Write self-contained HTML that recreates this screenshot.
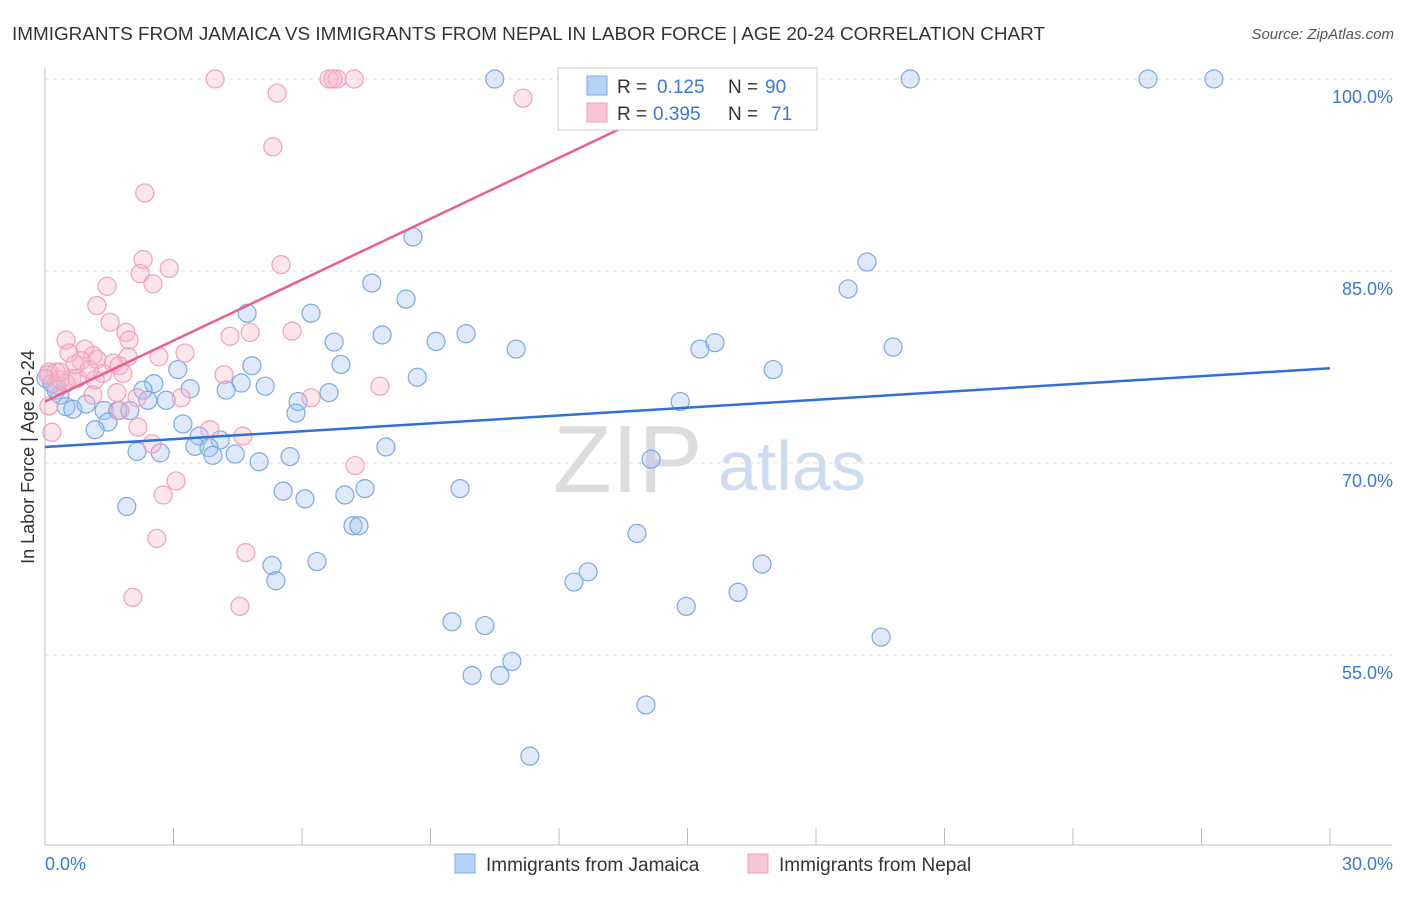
<!DOCTYPE html>
<html><head><meta charset="utf-8"><style>
body{margin:0;background:#fff;font-family:"Liberation Sans",sans-serif;}
svg text{font-family:"Liberation Sans",sans-serif;}
</style></head><body>
<svg id="chart" width="1406" height="892" viewBox="0 0 1406 892">
<text x="12" y="40" font-size="18" fill="#333" textLength="1033" lengthAdjust="spacingAndGlyphs">IMMIGRANTS FROM JAMAICA VS IMMIGRANTS FROM NEPAL IN LABOR FORCE | AGE 20-24 CORRELATION CHART</text>
<text x="1394" y="39" font-size="15" fill="#555" text-anchor="end" font-style="italic">Source: ZipAtlas.com</text>
<text transform="translate(34,457) rotate(-90)" font-size="18" fill="#333" text-anchor="middle">In Labor Force | Age 20-24</text>
<text x="553" y="492" font-size="96" fill="#ddd" font-family="Liberation Serif">ZIP</text>
<text x="718" y="490" font-size="70" fill="#cddcf0">atlas</text>
<g id="grid"></g><g id="axes"></g><g id="pts"></g><g id="trend"></g>
<g>
<rect x="558" y="68" width="259" height="62" fill="#fff" stroke="#ccc"/>
<rect x="587" y="76" width="20" height="19" fill="#b8d2f4" stroke="#7aa8e8"/>
<rect x="587" y="103" width="20" height="19" fill="#f9c4d4" stroke="#f0a0b8"/>
<text x="617" y="93" font-size="19" fill="#333">R =</text>
<text x="657" y="93" font-size="19" fill="#3a78d8">0.125</text>
<text x="728" y="93" font-size="19" fill="#333">N =</text>
<text x="765" y="93" font-size="19" fill="#3a78d8">90</text>
<text x="617" y="120" font-size="19" fill="#333">R =</text>
<text x="653" y="120" font-size="19" fill="#3a78d8">0.395</text>
<text x="728" y="120" font-size="19" fill="#333">N =</text>
<text x="771" y="120" font-size="19" fill="#3a78d8">71</text>
</g>
<g>
<rect x="455" y="854" width="20" height="19" fill="#b8d2f4" stroke="#7aa8e8"/>
<text x="486" y="871" font-size="19" fill="#333">Immigrants from Jamaica</text>
<rect x="748" y="854" width="20" height="19" fill="#f9c4d4" stroke="#f0a0b8"/>
<text x="779" y="871" font-size="19" fill="#333">Immigrants from Nepal</text>
</g>
</svg>
<script>
const yTicks=[100,85,70,55];
const yTickLabels=["100.0%","85.0%","70.0%","55.0%"];
const xTickLabels=["0.0%","30.0%"];
const jamX=[10.5,20.2,25.75,27.29,8.59,19.19,7.63,18.75,8.43,4.72,6.21,9.83,7.87,9.13,6.75,11.0,15.29,15.64,19.8,6.91,4.83,3.1,17.0,8.69,4.58,2.54,5.14,2.29,3.39,4.23,0.26,0.35,5.91,2.83,2.4,0.02,0.16,6.63,14.83,0.49,0.65,0.96,1.38,1.7,1.98,5.86,3.22,1.47,1.17,3.6,4.09,3.5,3.83,3.92,2.15,2.69,4.44,7.96,5.0,5.72,14.15,9.69,5.56,6.07,7.0,7.47,1.91,7.19,7.33,13.82,5.3,6.35,5.39,12.68,12.35,16.74,16.18,14.97,9.5,10.27,19.52,10.9,9.97,10.62,14.03,11.32];
const jamY=[100,100,100,100,87.66,85.7,84.06,83.6,82.8,81.7,81.7,80.1,80.0,79.5,79.45,78.9,78.9,79.4,79.06,77.7,77.6,77.3,77.3,76.7,76.25,76.2,76.0,75.7,75.8,75.7,75.7,75.3,74.8,74.9,74.9,76.6,76.2,75.5,74.8,74.4,74.2,74.6,74.1,74.1,74.1,73.9,73.05,73.2,72.6,72.1,71.8,71.3,71.2,70.6,70.9,70.8,70.7,71.25,70.1,70.5,70.3,68.0,67.8,67.2,67.5,68.0,66.6,65.1,65.1,64.5,62.0,62.3,60.8,61.5,60.7,62.1,59.9,58.8,57.6,57.3,56.4,54.5,53.4,53.4,51.1,47.1];
const nepX=[3.97,6.63,6.82,7.22,6.72,11.16,5.42,5.32,2.33,2.29,5.51,2.9,2.22,2.52,1.45,1.21,1.52,1.89,5.77,4.79,4.32,1.96,0.49,0.56,0.93,1.12,2.66,3.27,1.94,1.21,0.84,1.59,1.73,1.82,1.35,1.17,0.26,0.63,0.09,0.75,0.26,0.49,0.35,7.82,4.18,6.21,3.18,1.12,1.68,2.15,0.09,1.75,2.17,0.16,3.85,4.62,2.5,7.24,3.06,2.76,2.61,4.69,2.05,4.55,0.07,0.35,0.7,1.03];
const nepY=[100,100,100,100,100,98.5,98.9,94.7,91.1,85.9,85.5,85.2,84.8,84.0,83.8,82.3,81.0,80.2,80.3,80.2,79.9,79.6,79.6,78.6,78.9,78.4,78.3,78.6,78.3,78.1,78.0,77.8,77.6,77.0,77.0,76.5,77.1,76.6,77.1,76.6,76.1,76.25,76.5,76.0,76.9,75.1,75.1,75.3,75.5,75.1,74.45,74.1,72.8,72.4,72.6,72.1,71.5,69.8,68.6,67.5,64.1,63.0,59.5,58.8,76.9,77.1,77.7,77.3];
const trendJam=[0,71.25,30,77.4];
const trendNep=[0,74.8,15.5,99.4];
const X0=45,X1=1330,Y100=79,PX=12.8;
const sx=v=>X0+(X1-X0)*v/30;
const sy=v=>Y100+(100-v)*PX;
const NS="http://www.w3.org/2000/svg";
function mk(t,a,p){const e=document.createElementNS(NS,t);for(const k in a)e.setAttribute(k,a[k]);p.appendChild(e);return e;}
const grid=document.getElementById('grid'),axes=document.getElementById('axes'),pts=document.getElementById('pts'),tr=document.getElementById('trend');
yTicks.forEach((v,i)=>{
 const l=mk('line',{x1:X0,x2:1392,y1:sy(v),y2:sy(v),stroke:'#ddd','stroke-dasharray':'4,4'},grid);
 
 
 const t=mk('text',{x:1393,y:sy(v)+24,'font-size':18,fill:'#3a78d8','text-anchor':'end'},axes);
 t.textContent=yTickLabels[i];
 
 
});
const ax=mk('line',{x1:X0,x2:1392,y1:845,y2:845,stroke:'#bbb'},axes);


const ay=mk('line',{x1:X0,x2:X0,y1:68,y2:845,stroke:'#bbb'},axes);


for(let k=0;k<=10;k++){const tk=mk('line',{x1:sx(k*3),x2:sx(k*3),y1:828,y2:845,stroke:'#bbb'},axes);
 
 }
[[0,'start',45],[1,'end',1393]].forEach(([i,a,x])=>{const t=mk('text',{x:x,y:870,'font-size':18,fill:'#3a78d8','text-anchor':a},axes);t.textContent=xTickLabels[i];
 
 });
jamX.forEach((v,i)=>{const c=mk('circle',{cx:sx(v),cy:sy(jamY[i]),r:9,fill:'rgba(160,196,240,0.35)',stroke:'#7aa8e8','stroke-width':1.2},pts);
 
 });
nepX.forEach((v,i)=>{const c=mk('circle',{cx:sx(v),cy:sy(nepY[i]),r:9,fill:'rgba(248,180,200,0.35)',stroke:'#f0a0b8','stroke-width':1.2},pts);
 
 });
const lj=mk('line',{x1:sx(trendJam[0]),y1:sy(trendJam[1]),x2:sx(trendJam[2]),y2:sy(trendJam[3]),stroke:'#2f6fd6','stroke-width':2.5},tr);


const ln=mk('line',{x1:sx(trendNep[0]),y1:sy(trendNep[1]),x2:sx(trendNep[2]),y2:sy(trendNep[3]),stroke:'#e8608c','stroke-width':2.5},tr);


</script>
</body></html>
